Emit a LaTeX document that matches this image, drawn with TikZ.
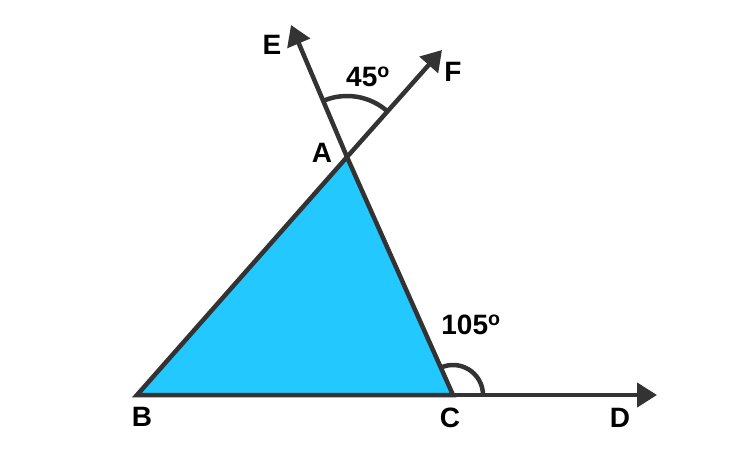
\documentclass[tikz,border=0pt]{standalone}
\usepackage{fontspec}
\setmainfont{Liberation Sans}
\usetikzlibrary{arrows.meta}
\definecolor{lineclr}{RGB}{51,51,51}
\definecolor{fillclr}{RGB}{34,200,255}
\tikzset{
  edge/.style={draw=lineclr,line width=4.5pt},
  ray/.style={edge,-{Triangle[length=20pt,width=24pt]}},
  lbl/.style={font=\fontsize{28}{30}\selectfont\bfseries,text=black,inner sep=0pt},
  anglearc/.style={draw=lineclr,line width=4.5pt}
}
\begin{document}
\begin{tikzpicture}[x=1pt,y=1pt]
\useasboundingbox (0,0) rectangle (750,475);
\coordinate (A) at (347,318);
\coordinate (B) at (137,80);
\coordinate (C) at (453,80);
\coordinate (D) at (657,80);
\coordinate (E) at (291,450);
\coordinate (F) at (442,425);
\fill[fillclr] (B) -- (C) -- (A) -- cycle;
\draw[ray] (C) -- (D);
\draw[ray] (A) -- (E);
\draw[ray] (A) -- (F);
\draw[edge,line join=miter] (A) -- (B) -- (C) -- (A);
\draw[anglearc] ([shift={(48:61)}]A) arc[start angle=48,end angle=113,radius=61];
\draw[anglearc] ([shift={(0:30)}]C) arc[start angle=0,end angle=114,radius=30];
\node[lbl] (lA) at (322,322) {A};
\node[lbl] (lB) at (142,58) {B};
\node[lbl] (lC) at (450,57) {C};
\node[lbl] (lD) at (620,57) {D};
\node[lbl] (lE) at (272,430) {E};
\node[lbl] (lF) at (453,403) {F};
\node[lbl] (l45) at (368,398) {45\textsuperscript{o}};
\node[lbl] (l105) at (471,150) {105\textsuperscript{o}};
\end{tikzpicture}
\end{document}
